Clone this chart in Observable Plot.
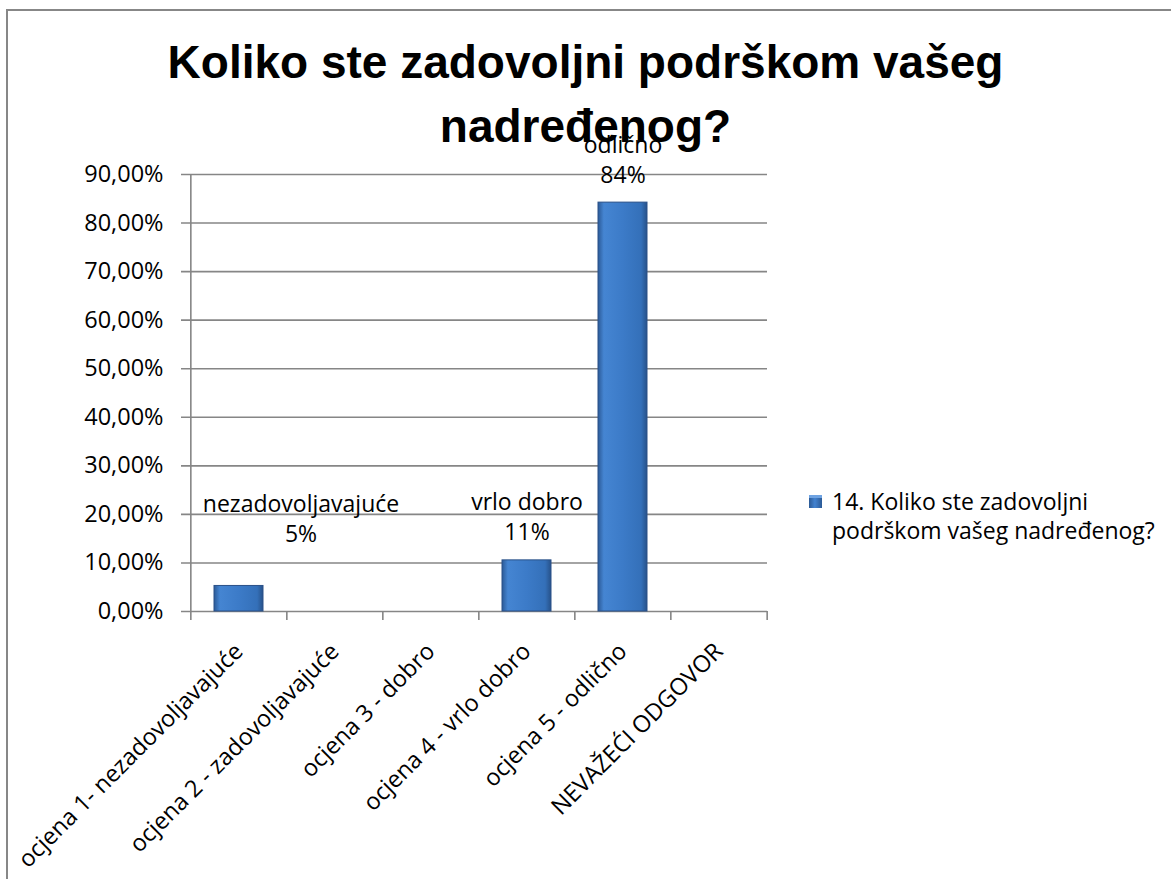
<!DOCTYPE html>
<html>
<head>
<meta charset="utf-8">
<script src="https://cdn.jsdelivr.net/npm/d3@7"></script>
<script src="https://cdn.jsdelivr.net/npm/@observablehq/plot@0.6"></script>
<style>
  html, body { margin: 0; padding: 0; background: #fff; }
  #wrap { position: relative; width: 1171px; height: 879px; overflow: hidden; background: #fff; }
  #border { position: absolute; left: 6px; top: 9px; width: 1300px; height: 1000px;
            border-top: 2px solid #878787; border-left: 2px solid #878787; box-sizing: border-box; }
  #title { position: absolute; left: 0; top: 30px; width: 1171px; text-align: center;
           font-family: "Liberation Sans", Arial, sans-serif; font-weight: bold; font-size: 46px;
           line-height: 64px; color: #000; }
  #legend { position: absolute; left: 809px; top: 487px; font-family: "Open Sans", sans-serif;
            font-size: 23px; line-height: 29px; color: #000; }
  #legend .sw { position: absolute; left: 0; top: 8px; width: 13px; height: 13px;
                background: linear-gradient(to right, #2c5a95, #4282d0 45%, #2c5a95); box-shadow: inset 0 3px 0 #6fa3e2; }
  #legend .txt { position: absolute; left: 23px; top: 0; white-space: nowrap; }
</style>
</head>
<body>
<div id="wrap">
  <div id="border"></div>
  <div id="title"></div>
  <div id="legend"><div class="sw"></div><div class="txt"></div></div>
</div>
<script>
const categories = [
  "ocjena 1- nezadovoljavajuće",
  "ocjena 2 - zadovoljavajuće",
  "ocjena 3 - dobro",
  "ocjena 4 - vrlo dobro",
  "ocjena 5 - odlično",
  "NEVAŽEĆI ODGOVOR"
];
const labelNames = ["nezadovoljavajuće", "zadovoljavajuće", "dobro", "vrlo dobro", "odlično", "NEVAŽEĆI ODGOVOR"];
const values = [0.0526, 0, 0, 0.1053, 0.8421, 0];
const yTicks = [0, 0.1, 0.2, 0.3, 0.4, 0.5, 0.6, 0.7, 0.8, 0.9];
const titleLines = ["Koliko ste zadovoljni podrškom vašeg", "nadređenog?"];
const legendLines = ["14. Koliko ste zadovoljni", "podrškom vašeg nadređenog?"];

document.getElementById("title").innerHTML = titleLines.join("<br>");
document.querySelector("#legend .txt").innerHTML = legendLines.join("<br>");

const rows = categories.map((c, i) => ({cat: c, name: labelNames[i], value: values[i]}));
const nonZero = rows.filter(d => d.value > 0);

const W = 1171, H = 879;
const mL = 189, mR = 404, mT = 174, mB = 268;
const step = (W - mL - mR) / categories.length;
const fmtAxis = d => (d * 100).toFixed(2).replace(".", ",") + "%";
const fmtLabel = d => `${d.name}\n${Math.round(d.value * 100)}%`;
const gridColor = "#868686";
const font = "'Open Sans', sans-serif";

const plot = Plot.plot({
  width: W, height: H,
  marginLeft: mL, marginRight: mR, marginTop: mT, marginBottom: mB,
  style: {fontFamily: font, fontSize: "23.5px", color: "#000", background: "transparent", overflow: "visible"},
  x: {domain: categories, paddingInner: 0.49, paddingOuter: 0.245, label: null,
      tickSize: 0, tickPadding: 36, tickRotate: -45},
  y: {domain: [0, 0.9], ticks: yTicks, tickFormat: fmtAxis, label: null, tickSize: 0, tickPadding: 26},
  marks: [
    Plot.ruleY(yTicks, {y: d => d, stroke: gridColor, strokeWidth: 1.6, insetLeft: -8}),
    Plot.ruleX([categories[0]], {x: d => d, stroke: gridColor, strokeWidth: 1.6, dx: -step / 2}),
    Plot.ruleX(categories, {x: d => d, y1: 0, y2: 0, insetBottom: -9, stroke: gridColor, strokeWidth: 1.6, dx: -step / 2}),
    Plot.ruleX([categories[categories.length - 1]], {x: d => d, y1: 0, y2: 0, insetBottom: -9, stroke: gridColor, strokeWidth: 1.6, dx: step / 2}),
    Plot.barY(nonZero, {x: "cat", y: "value", fill: "#3b76c0", stroke: "#2a5188", strokeWidth: 1}),
    Plot.text(nonZero.filter((d, i) => i > 0), {x: "cat", y: "value", text: fmtLabel, lineAnchor: "bottom",
      lineHeight: 1.3, dy: -20, fill: "#000", fontSize: 23}),
    Plot.text(nonZero.slice(0, 1), {x: "cat", y: "value", text: fmtLabel, lineAnchor: "bottom",
      lineHeight: 1.3, dy: -44, dx: 62, fill: "#000", fontSize: 23})
  ]
});

// gradient fill for bars
const ns = "http://www.w3.org/2000/svg";
const defs = document.createElementNS(ns, "defs");
defs.innerHTML = `
  <linearGradient id="barGrad" x1="0" x2="1" y1="0" y2="0">
    <stop offset="0" stop-color="#2b5a97"/>
    <stop offset="0.12" stop-color="#4585d2"/>
    <stop offset="0.5" stop-color="#3c7bc8"/>
    <stop offset="0.88" stop-color="#3470b9"/>
    <stop offset="1" stop-color="#27528a"/>
  </linearGradient>`;
plot.insertBefore(defs, plot.firstChild);
plot.querySelectorAll('g[aria-label="bar"] rect').forEach(r => r.setAttribute("fill", "url(#barGrad)"));

plot.style.position = "absolute";
plot.style.left = "0";
plot.style.top = "0";
document.getElementById("wrap").appendChild(plot);
</script>
</body>
</html>
